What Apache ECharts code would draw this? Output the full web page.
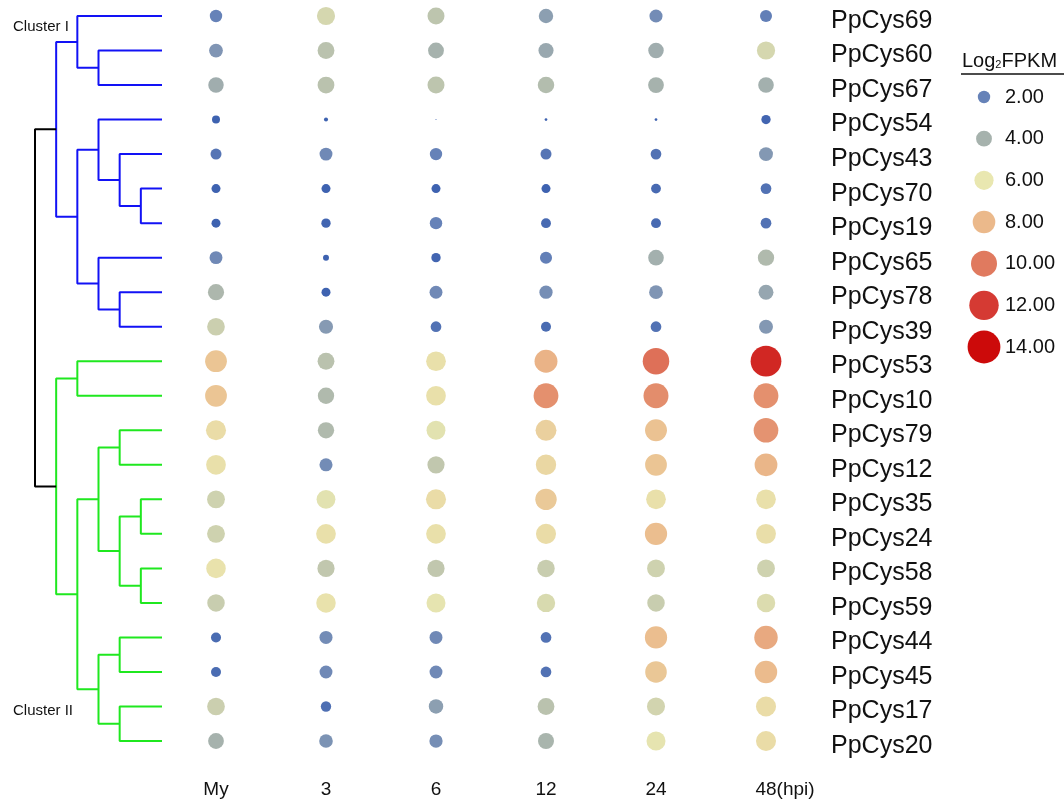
<!DOCTYPE html>
<html>
<head>
<meta charset="utf-8">
<script src="https://cdn.jsdelivr.net/npm/echarts@6/dist/echarts.min.js"></script>
<style>
  html, body { margin: 0; padding: 0; background: #fff; }
  #chart { width: 1064px; height: 802px; }
</style>
</head>
<body>
<div id="chart"></div>
<script>
// Genes (top to bottom) and time points
const genes = ['PpCys69', 'PpCys60', 'PpCys67', 'PpCys54', 'PpCys43', 'PpCys70', 'PpCys19',
  'PpCys65', 'PpCys78', 'PpCys39', 'PpCys53', 'PpCys10', 'PpCys79', 'PpCys12', 'PpCys35',
  'PpCys24', 'PpCys58', 'PpCys59', 'PpCys44', 'PpCys45', 'PpCys17', 'PpCys20'];
const times = ['My', '3', '6', '12', '24', '48'];

// Log2FPKM per time point (same order as genes)
const expMy = [2.0, 2.8, 3.8, -0.6, 1.2, 0.0, 0.0, 2.3, 4.2, 5.1, 7.5, 7.5, 6.5, 6.3, 5.2, 5.2, 6.2, 5.0, 0.6, 0.6, 5.1, 4.0];
const exp3 = [5.4, 4.6, 4.6, -2.9, 2.3, 0.0, 0.2, -1.8, 0.0, 3.0, 4.6, 4.3, 4.3, 2.4, 5.8, 6.3, 4.8, 6.2, 2.4, 2.3, 0.8, 2.7];
const exp6 = [4.7, 4.0, 4.7, -4.7, 2.0, 0.0, 2.0, 0.2, 2.3, 1.0, 6.3, 6.3, 5.8, 4.8, 6.5, 6.3, 4.8, 5.9, 2.3, 2.3, 3.2, 2.5];
const exp12 = [3.2, 3.6, 4.4, -3.7, 1.2, 0.0, 0.5, 1.8, 2.5, 0.6, 8.2, 9.3, 7.0, 6.7, 7.3, 6.5, 5.0, 5.5, 1.0, 1.0, 4.6, 4.1];
const exp24 = [2.4, 3.8, 4.0, -3.7, 1.0, 0.5, 0.5, 3.9, 2.8, 1.0, 10.3, 9.4, 7.6, 7.5, 6.3, 7.8, 5.2, 5.0, 7.8, 7.4, 5.3, 5.9];
const exp48 = [1.8, 5.4, 3.9, 0.2, 2.9, 1.0, 1.0, 4.3, 3.5, 2.9, 12.8, 9.3, 9.2, 8.1, 6.3, 6.4, 5.2, 5.6, 8.5, 7.9, 6.5, 6.5];

// Legend values
const legendValues = [2, 4, 6, 8, 10, 12, 14];

// Dendrogram: [left, right, height], leaves are 0..21, merges get ids 22, 23, ...
const linkage = [
  [5, 6, 1], [4, 22, 2], [3, 23, 3], [8, 9, 2], [7, 25, 3], [24, 26, 4],
  [1, 2, 3], [0, 28, 4], [29, 27, 5],
  [10, 11, 4], [12, 13, 2], [14, 15, 1], [16, 17, 1], [33, 34, 2], [32, 35, 3],
  [18, 19, 2], [20, 21, 2], [37, 38, 3], [36, 39, 4], [31, 40, 5],
  [30, 41, 6]
];

const font = 'Liberation Sans, Arial, sans-serif';
const nLeaf = genes.length;

// bubble size from value
function bubbleSize(v) {
  return Math.max(1, 9 + 1.7 * v);
}

const columns = [expMy, exp3, exp6, exp12, exp24, exp48];
const bubbleData = [];
columns.forEach((col, ci) => {
  col.forEach((v, ri) => bubbleData.push([ci, ri, v]));
});

const legendData = legendValues.map((v, i) => [0, i, v]);

// dendrogram node positions
const nodeY = [];
const nodeH = [];
const nodeLeaves = [];
for (let i = 0; i < nLeaf; i++) { nodeY[i] = i; nodeH[i] = 0; nodeLeaves[i] = [i]; }
const treeSeries = [];
linkage.forEach((m, k) => {
  const id = nLeaf + k;
  const a = m[0], b = m[1], h = m[2];
  nodeY[id] = (nodeY[a] + nodeY[b]) / 2;
  nodeH[id] = h;
  nodeLeaves[id] = nodeLeaves[a].concat(nodeLeaves[b]);
  let color = '#000000';
  if (k !== linkage.length - 1) {
    color = Math.max.apply(null, nodeLeaves[id]) < 10 ? '#1212f5' : '#1fe81f';
  }
  treeSeries.push({
    type: 'line',
    xAxisIndex: 1,
    yAxisIndex: 1,
    symbol: 'none',
    silent: true,
    animation: false,
    lineStyle: { color: color, width: 2 },
    data: [[nodeH[a], nodeY[a]], [h, nodeY[a]], [h, nodeY[b]], [nodeH[b], nodeY[b]]]
  });
});

const chart = echarts.init(document.getElementById('chart'));
const option = {
  animation: false,
  backgroundColor: '#ffffff',
  textStyle: { fontFamily: font },
  title: {
    text: '{a|Log}{s|2}{a|FPKM}',
    left: 962,
    top: 51,
    padding: 0,
    textStyle: {
      fontWeight: 'normal',
      rich: {
        a: { fontSize: 20, color: '#111', fontFamily: font, fontWeight: 'normal' },
        s: { fontSize: 11, color: '#111', fontFamily: font, fontWeight: 'normal', padding: [8, 0, 0, 0] }
      }
    }
  },
  graphic: [
    { type: 'line', shape: { x1: 961, y1: 74, x2: 1064, y2: 74 }, style: { stroke: '#111', lineWidth: 1.5 } },
    { type: 'text', left: 13, top: 19, style: { text: 'Cluster I', fontSize: 15, fontFamily: font, fill: '#111' } },
    { type: 'text', left: 13, top: 703, style: { text: 'Cluster II', fontSize: 15, fontFamily: font, fill: '#111' } }
  ],
  visualMap: {
    show: false,
    type: 'continuous',
    min: 0,
    max: 14,
    dimension: 2,
    seriesIndex: [0, 1],
    inRange: {
      color: ['#3e62b0', '#6682b8', '#a6b2ad', '#e9e7b0', '#ebb98b', '#e07a5f', '#d53a33', '#cc0a0a']
    }
  },
  grid: [
    { left: 216, right: 298, top: 16, bottom: 61 },
    { left: 35, right: 902, top: 16, bottom: 61 },
    { left: 974, width: 20, top: 97, bottom: 455 }
  ],
  xAxis: [
    {
      gridIndex: 0,
      type: 'category',
      data: times,
      boundaryGap: false,
      axisLine: { show: false },
      axisTick: { show: false },
      splitLine: { show: false },
      axisLabel: {
        interval: 0,
        hideOverlap: false,
        margin: 39,
        fontSize: 19,
        color: '#111',
        fontFamily: font,
        formatter: function (v) {
          return v === '48' ? '{p|48}(hpi)' : v;
        },
        rich: { p: { fontSize: 19, color: '#111', fontFamily: font, padding: [0, 0, 0, 38] } }
      }
    },
    { gridIndex: 1, type: 'value', min: 0, max: 6, inverse: true, show: false },
    { gridIndex: 2, type: 'value', min: -1, max: 1, show: false }
  ],
  yAxis: [
    {
      gridIndex: 0,
      type: 'category',
      data: genes,
      inverse: true,
      boundaryGap: false,
      position: 'right',
      axisLine: { show: false },
      axisTick: { show: false },
      splitLine: { show: false },
      axisLabel: {
        interval: 0, margin: 65, fontSize: 25, color: '#111', fontFamily: font,
        align: 'left', verticalAlign: 'top', lineHeight: 10
      }
    },
    { gridIndex: 1, type: 'value', min: 0, max: nLeaf - 1, inverse: true, show: false },
    {
      gridIndex: 2,
      type: 'category',
      data: legendValues.map(v => v.toFixed(2)),
      inverse: true,
      boundaryGap: false,
      position: 'right',
      axisLine: { show: false },
      axisTick: { show: false },
      splitLine: { show: false },
      axisLabel: { interval: 0, margin: 11, fontSize: 20, color: '#111', fontFamily: font, align: 'left' }
    }
  ],
  series: [
    {
      type: 'scatter',
      xAxisIndex: 0,
      yAxisIndex: 0,
      data: bubbleData,
      symbolSize: function (val) { return bubbleSize(val[2]); },
      itemStyle: { opacity: 1 }
    },
    {
      type: 'scatter',
      xAxisIndex: 2,
      yAxisIndex: 2,
      data: legendData,
      symbolSize: function (val) { return bubbleSize(val[2]); },
      itemStyle: { opacity: 1 }
    }
  ].concat(treeSeries)
};
chart.setOption(option);
</script>
</body>
</html>
